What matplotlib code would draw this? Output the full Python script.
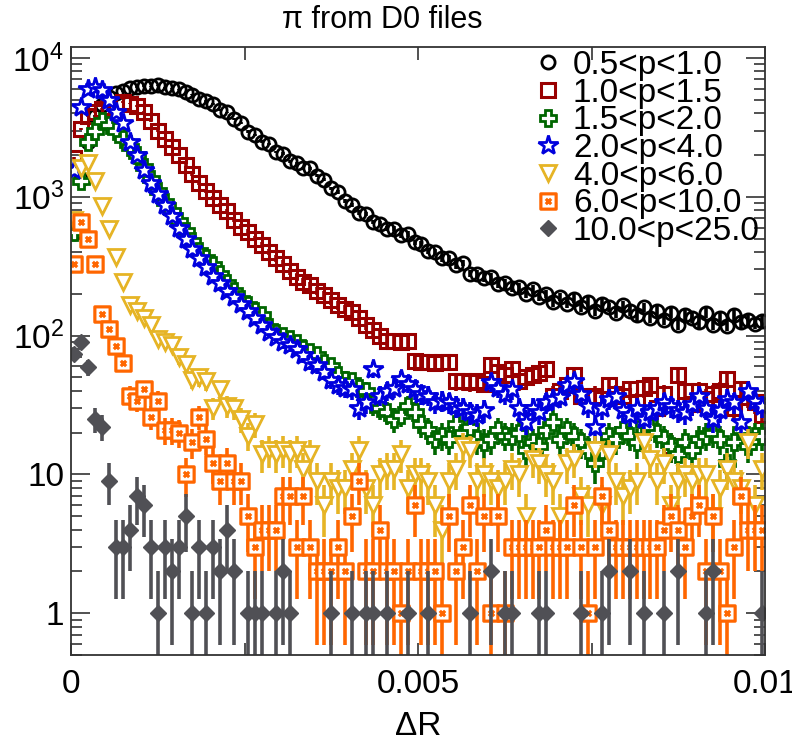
import numpy as np
import matplotlib.pyplot as plt
from matplotlib.lines import Line2D
from matplotlib.path import Path
from matplotlib.ticker import FixedLocator, FuncFormatter

plt.rcParams['font.family'] = ['Liberation Sans', 'DejaVu Sans']
plt.rcParams['mathtext.fontset'] = 'custom'
plt.rcParams['mathtext.rm'] = 'Liberation Sans'
plt.rcParams['mathtext.it'] = 'Liberation Sans:italic'

# 100 bins of width 1e-4 in Delta R
edges = np.linspace(0.0, 0.01, 101)
centers = 0.5 * (edges[:-1] + edges[1:])

labels = ['0.5<p<1.0', '1.0<p<1.5', '1.5<p<2.0', '2.0<p<4.0',
          '4.0<p<6.0', '6.0<p<10.0', '10.0<p<25.0']

p05_10 = [550, 1350, 2500, 3800, 4600, 5200, 5600, 5800, 6100, 6200,
          6300, 6250, 6350, 6150, 6050, 5950, 5650, 5450, 5050, 4900,
          4650, 4250, 4050, 3650, 3400, 2950, 2800, 2500, 2400, 2100,
          2050, 1800, 1750, 1600, 1600, 1420, 1330, 1150, 1080, 930,
          880, 770, 750, 660, 640, 590, 590, 530, 540, 470,
          460, 410, 400, 360, 360, 320, 335, 280, 280, 260,
          265, 235, 240, 220, 225, 200, 215, 190, 200, 175,
          190, 170, 185, 160, 175, 150, 170, 160, 145, 165,
          150, 140, 160, 135, 150, 130, 145, 120, 140, 135,
          125, 145, 120, 135, 118, 140, 125, 130, 122, 127]

p10_15 = [1900, 3100, 3800, 4100, 4300, 4400, 4700, 4800, 4700, 4500,
          4100, 3500, 3000, 2600, 2300, 2000, 1700, 1450, 1250, 1100,
          980, 880, 790, 680, 610, 560, 500, 450, 400, 360,
          330, 290, 265, 245, 230, 210, 195, 180, 165, 155,
          148, 133, 120, 110, 100, 92, 92, 90, 92, 66,
          65, 65, 64, 65, 65, 47, 47, 46, 47, 45,
          61, 55, 52, 57, 47, 50, 52, 54, 57, 37,
          40, 44, 52, 37, 36, 37, 35, 44, 38, 37,
          41, 33, 42, 44, 30, 38, 16, 52, 40, 32,
          40, 35, 38, 40, 49, 30, 41, 36, 33, 27]

p15_20 = [560, 1300, 2500, 3000, 3500, 3300, 3000, 2600, 2300, 2000,
          1650, 1350, 1100, 920, 790, 670, 570, 480, 410, 360,
          320, 280, 240, 210, 185, 165, 150, 140, 115, 105,
          100, 95, 88, 80, 76, 72, 64, 60, 52, 48,
          47, 42, 40, 32, 30, 28, 25, 27, 31, 28,
          23, 21, 18, 19, 18, 23, 20, 22, 18, 17,
          18, 21, 19, 19, 20, 15, 17, 16, 21, 24,
          18, 21, 19, 17, 15, 12, 15, 19, 18, 21,
          19, 17, 23, 22, 20, 18, 16, 14, 17, 15,
          18, 19, 20, 18, 12, 17, 21, 16, 19, 19]

p20_40 = [1550, 4400, 6000, 6200, 5900, 5000, 4100, 3400, 2500, 2000,
          1550, 1250, 1050, 880, 730, 600, 500, 420, 360, 310,
          270, 240, 210, 190, 170, 150, 135, 120, 107, 98,
          90, 85, 80, 72, 65, 61, 55, 48, 44, 42,
          41, 30, 33, 57, 37, 40, 42, 49, 45, 41,
          38, 37, 33, 34, 33, 31, 30, 28, 27, 29,
          46, 42, 38, 41, 30, 24, 30, 28, 33, 35,
          36, 44, 47, 38, 31, 22, 30, 35, 37, 29,
          27, 30, 25, 28, 30, 33, 31, 29, 28, 32,
          37, 30, 25, 29, 35, 33, 24, 40, 34, 31]

p40_60 = [680, 1600, 1750, 1300, 860, 590, 370, 245, 165, 150,
          133, 120, 95, 90, 85, 70, 62, 48, 50, 47,
          30, 41, 31, 30, 25, 19, 23, 14, 15, 14,
          15, 14, 15, 11, 14, 9, 6, 9, 8, 8,
          11, 15, 8, 6, 10, 11, 11, 14, 8, 10,
          10, 9, 6, 4, 9, 11, 16, 15, 9, 10,
          9, 8, 9, 11, 10, 5, 13, 12, 10, 9,
          5, 12, 13, 7, 6, 15, 6, 14, 9, 7,
          8, 9, 17, 13, 9, 12, 6, 9, 10, 9,
          10, 10, 5, 8, 11, 9, 8, 17, 6, 11]

p60_100 = [330, 660, 500, 330, 144, 112, 84, 63, 37, 34,
           41, 26, 34, 21, 21, 20, 10, 17, 26, 18,
           12, 9, 12, 9, 9, 5, 3, 4, 4, 4,
           7, 7, 3, 7, 3, 2, 2, 2, 3, 2,
           5, 9, 2, 2, 4, 2, 2, 1, 2, 6,
           2, 2, 2, 1, 5, 2, 3, 6, 2, 5,
           1, 5, 1, 3, 3, 3, 3, 3, 4, 3,
           3, 3, 6, 3, 1, 3, 7, 4, 3, 3,
           3, 3, 3, 3, 3, 4, 5, 4, 3, 5,
           6, 2, 5, 2, 1, 3, 7, 4, 4, 4]

p100_250 = [74, 90, 59, 25, 22, 9, 3, 3, 4, 7,
            6, 3, 1, 3, 2, 3, 5, 1, 3, 1,
            3, 2, 4, 2, 0, 1, 1, 1, 0, 1,
            2, 1, 0, 0, 0, 0, 0, 1, 0, 0,
            1, 0, 1, 1, 0, 1, 0, 0, 1, 0,
            0, 1, 0, 0, 0, 0, 0, 1, 0, 0,
            2, 0, 1, 1, 0, 0, 0, 1, 1, 0,
            0, 0, 0, 1, 0, 0, 1, 2, 0, 0,
            2, 0, 1, 0, 0, 1, 0, 2, 0, 0,
            0, 1, 2, 0, 0, 0, 0, 0, 0, 1]

series = [p05_10, p10_15, p15_20, p20_40, p40_60, p60_100, p100_250]

# open square with a small cross inside
sqx = Path([(-1, -1), (1, -1), (1, 1), (-1, 1), (-1, -1),
            (-0.35, -0.35), (0.35, 0.35), (-0.35, 0.35), (0.35, -0.35)],
           [Path.MOVETO, Path.LINETO, Path.LINETO, Path.LINETO, Path.CLOSEPOLY,
            Path.MOVETO, Path.LINETO, Path.MOVETO, Path.LINETO])

styles = [
    dict(color='black', marker='o', ms=9.5, mew=2.0, mfc='none'),
    dict(color='#990000', marker='s', ms=10.5, mew=2.2, mfc='none'),
    dict(color='#006600', marker='P', ms=12, mew=2.0, mfc='white'),
    dict(color='#0000dd', marker='*', ms=14.5, mew=2.0, mfc='white'),
    dict(color='#e6b425', marker='v', ms=12, mew=2.0, mfc='white'),
    dict(color='#ff6600', marker=sqx, ms=11, mew=2.3, mfc='white'),
    dict(color='#505055', marker='D', ms=8.5, mew=1.0, mfc='#505055'),
]

fig = plt.figure(figsize=(7.92, 7.43), dpi=100)
ax = fig.add_axes([71 / 792, 1 - 655 / 743, 694 / 792, 608 / 743])
ax.set_yscale('log')

handles = []
for vals, st in zip(series, styles):
    v = np.array(vals, dtype=float)
    keep = v > 0
    x = centers[keep]
    y = v[keep]
    err = np.sqrt(y)
    lo = y - np.maximum(y - err, 1e-3)
    ax.errorbar(x, y, yerr=[lo, err], fmt='none', ecolor=st['color'],
                elinewidth=2.6, capsize=0)
    ax.plot(x, y, linestyle='none', marker=st['marker'], ms=st['ms'],
            mew=st['mew'], mec=st['color'], mfc=st['mfc'])
    handles.append(Line2D([], [], linestyle='none', marker=st['marker'],
                          ms=st['ms'], mew=st['mew'], mec=st['color'],
                          mfc=st['mfc']))

ax.set_xlim(0, 0.01)
ax.set_ylim(0.5, 1.2e4)

ax.xaxis.set_major_locator(FixedLocator(np.arange(0, 0.01001, 0.0025)))
xlab = {0.0: '0', 0.005: '0.005', 0.01: '0.01'}
ax.xaxis.set_major_formatter(FuncFormatter(
    lambda v, p: xlab.get(round(v, 4), '')))
ax.yaxis.set_major_locator(FixedLocator([1, 10, 100, 1000, 10000]))
ax.yaxis.set_minor_locator(FixedLocator(
    [m * 10 ** k for k in range(-1, 5) for m in range(2, 10)]))
ylab = {1: '1', 10: '10', 100: '$10^{2}$', 1000: '$10^{3}$', 10000: '$10^{4}$'}
ax.yaxis.set_major_formatter(FuncFormatter(
    lambda v, p: ylab.get(int(round(v)), '')))
ax.yaxis.set_minor_formatter(FuncFormatter(lambda v, p: ''))

ax.tick_params(axis='both', which='both', direction='in', top=True,
               right=True, labelsize=24, color='#333333', width=1.2)
ax.tick_params(axis='x', which='major', length=9, pad=10)
ax.tick_params(axis='y', which='major', length=14, pad=5)
ax.tick_params(axis='y', which='minor', length=8)
ax.tick_params(axis='x', which='minor', bottom=False, top=False)
for s in ax.spines.values():
    s.set_color('#333333')
    s.set_linewidth(1.3)

ax.set_xlabel('ΔR', fontsize=24, labelpad=8)
fig.text(382 / 792, 1 - 20 / 743, 'π from D0 files', ha='center',
         va='center', fontsize=22)

ax.legend(handles, labels, loc='upper left', bbox_to_anchor=(0.668, 0.995),
          frameon=False, fontsize=24, labelspacing=-0.1, handlelength=0.8,
          handletextpad=0.35, borderpad=0, borderaxespad=0)

fig.savefig('out.png', dpi=100)
